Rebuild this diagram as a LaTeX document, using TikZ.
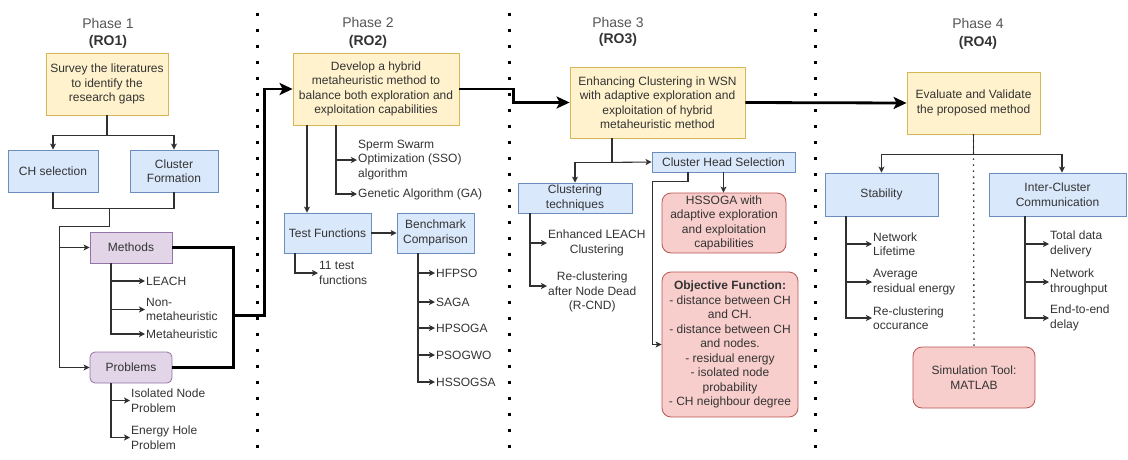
\documentclass[tikz,border=0pt]{standalone}
\usepackage{fontspec}
\setmainfont{Liberation Sans}
\usetikzlibrary{arrows.meta,calc}

\definecolor{ylwfill}{HTML}{FFF2CC}
\definecolor{ylwdraw}{HTML}{D6B656}
\definecolor{blufill}{HTML}{DAE8FC}
\definecolor{bludraw}{HTML}{6C8EBF}
\definecolor{purfill}{HTML}{E1D5E7}
\definecolor{purdraw}{HTML}{9673A6}
\definecolor{redfill}{HTML}{F8CECC}
\definecolor{reddraw}{HTML}{B85450}
\definecolor{txt}{HTML}{333333}
\definecolor{linec}{HTML}{303030}
\definecolor{phasec}{HTML}{555555}

\tikzset{
  box/.style={draw, line width=0.8pt, align=center, inner sep=1pt, text=txt},
  ybox/.style={box, fill=ylwfill, draw=ylwdraw},
  bbox/.style={box, fill=blufill, draw=bludraw},
  pbox/.style={box, fill=purfill, draw=purdraw},
  rbox/.style={box, fill=redfill, draw=reddraw, rounded corners=9pt},
  leaf/.style={anchor=west, align=left, inner sep=1pt, text=txt},
  cleaf/.style={anchor=west, align=center, inner sep=1pt, text=txt},
  conn/.style={draw=linec, line width=1.1pt},
  arr/.style={conn, -{Stealth[length=6pt,width=6pt,inset=1.5pt]}},
  heavy/.style={draw=black, line width=2.8pt},
  harr/.style={heavy, -{Stealth[length=13pt,width=12pt,inset=3pt]}},
  sep/.style={draw=black, line width=3pt, dash pattern=on 3pt off 13pt},
  dotline/.style={draw=linec, line width=1.3pt, dash pattern=on 1.5pt off 4.5pt},
  phase/.style={font=\fontsize{14}{16}\selectfont, text=phasec},
  ro/.style={font=\fontsize{14}{16}\selectfont\bfseries, text=txt}
}

\begin{document}
\begin{tikzpicture}[x=1pt, y=-1pt, font=\fontsize{12}{14.5}\selectfont]
\useasboundingbox (0,0) rectangle (1128,459);

% phase separators
\draw[sep] (257,13) -- (257,459);
\draw[sep] (509,13) -- (509,459);
\draw[sep] (815,13) -- (815,459);

% ---------------- Phase 1 ----------------
\node[phase] (p1) at (108,23) {Phase 1};
\node[ro] (r1) at (108,42) {(RO1)};
\node[ybox, minimum width=122pt, minimum height=62pt] (survey) at (107,84) {Survey the literatures\\to identify the\\research gaps};
\node[bbox, minimum width=90pt, minimum height=42pt] (chsel) at (53,171) {CH selection};
\node[bbox, minimum width=88pt, minimum height=42pt] (clform) at (174,171) {Cluster\\Formation};
\node[pbox, minimum width=82pt, minimum height=31pt] (methods) at (131,247.5) {Methods};
\node[pbox, minimum width=82pt, minimum height=31pt, rounded corners=5pt] (problems) at (131,367.5) {Problems};

\draw[conn] (survey.south) -- ++(0,20) coordinate (s1);
\draw[arr] (s1) -| (chsel.north);
\draw[arr] (s1) -| (clform.north);
\draw[conn] (chsel.south) -- ++(0,16) coordinate (j1) -| (clform.south);
\coordinate (j2) at ($(j1)!0.47!(j1 -| clform.south)$);
\draw[arr] (j2) -- ++(0,18) -| ([xshift=-30pt]methods.west) -- (methods.west);
\draw[arr] ([xshift=-30pt]methods.west) |- (problems.west);

\node[leaf] (leach) at (145,281) {LEACH};
\node[leaf] (nonmeta) at (145,309.5) {Non-\\metaheuristic};
\node[leaf] (meta) at (145,334) {Metaheuristic};
\draw[arr] ([xshift=-20pt]methods.south) |- (leach.west);
\draw[arr] ([xshift=-20pt]methods.south) |- (nonmeta.west);
\draw[arr] ([xshift=-20pt]methods.south) |- (meta.west);

\node[leaf] (isol) at (130,400.5) {Isolated Node\\Problem};
\node[leaf] (ehole) at (130,437.5) {Energy Hole\\Problem};
\draw[arr] ([xshift=-20pt]problems.south) |- (isol.west);
\draw[arr] ([xshift=-20pt]problems.south) |- (ehole.west);

% ---------------- Phase 2 ----------------
\node[phase] (p2) at (368,22) {Phase 2};
\node[ro] (r2) at (368,42) {(RO2)};
\node[ybox, minimum width=166pt, minimum height=72pt] (dev) at (376,89) {Develop a hybrid\\metaheuristic method to\\balance both exploration and\\exploitation capabilities};
\node[bbox, minimum width=87pt, minimum height=40pt] (testfn) at (327.5,233) {Test Functions};
\node[bbox, minimum width=77pt, minimum height=40pt] (bench) at (435.5,233) {Benchmark\\Comparison};

\node[leaf] (sso) at (357,160) {Sperm Swarm\\Optimization (SSO)\\algorithm};
\node[leaf] (ga) at (357,194) {Genetic Algorithm (GA)};
\draw[arr] ([xshift=-69pt]dev.south) -- ([xshift=-69pt]dev.south |- testfn.north);
\draw[arr] ([xshift=-40pt]dev.south) |- (sso.west);
\draw[arr] ([xshift=-40pt]dev.south) |- (ga.west);
\draw[arr] (testfn.east) -- (bench.west);

\node[leaf] (tfn) at (318,273) {11 test\\functions};
\draw[arr] ([xshift=-32.5pt]testfn.south) |- (tfn.west);

\node[leaf] (hfpso) at (435,273) {HFPSO};
\node[leaf] (saga) at (435,302) {SAGA};
\node[leaf] (hpsoga) at (435,328) {HPSOGA};
\node[leaf] (psogwo) at (435,355) {PSOGWO};
\node[leaf] (hssogsa) at (435,382) {HSSOGSA};
\foreach \t in {hfpso,saga,hpsoga,psogwo,hssogsa}
  \draw[arr] ([xshift=-17.5pt]bench.south) |- (\t.west);

% ---------------- Phase 3 ----------------
\node[phase] (p3) at (618,22) {Phase 3};
\node[ro] (r3) at (618,40) {(RO3)};
\node[ybox, minimum width=175pt, minimum height=71pt] (enh) at (657.5,102.5) {Enhancing Clustering in WSN\\with adaptive exploration and\\exploitation of hybrid\\metaheuristic method};
\node[bbox, minimum width=143pt, minimum height=20pt, inner sep=0.5pt] (chs) at (723.5,162) {Cluster Head Selection};
\node[bbox, minimum width=114pt, minimum height=30pt, inner sep=0pt] (clt) at (575,198) {Clustering\\techniques};
\node[rbox, minimum width=124pt, minimum height=60pt] (hss) at (724,223) {HSSOGA with\\adaptive exploration\\and exploitation\\capabilities};
\node[rbox, minimum width=136pt, minimum height=145pt] (obj) at (730,344.5) {\textbf{Objective Function:}\\- distance between CH\\and CH.\\- distance between CH\\and nodes.\\- residual energy\\- isolated node\\probability\\- CH neighbour degree};

\draw[conn] ([xshift=-45.5pt]enh.south) -- ++(0,24) coordinate (e1);
\draw[arr] (e1) -| (clt.north);
\draw[arr] (e1) -- (chs.west);
\draw[arr] (chs.south) -- (chs.south |- hss.north);
\draw[arr] ([xshift=-35.5pt]chs.south) -- ++(0,9) -| ([xshift=-9pt]obj.west) -- (obj.west);

\node[cleaf] (eleach) at (547,243) {Enhanced LEACH\\Clustering};
\node[cleaf] (rcnd) at (547,292) {Re-clustering\\after Node Dead\\(R-CND)};
\draw[arr] ([xshift=-45pt]clt.south) |- (eleach.west);
\draw[arr] ([xshift=-45pt]clt.south) |- ([yshift=6pt]rcnd.west);

% ---------------- Phase 4 ----------------
\node[phase] (p4) at (978,23) {Phase 4};
\node[ro] (r4) at (978,43) {(RO4)};
\node[ybox, minimum width=133pt, minimum height=62pt] (eval) at (973.5,103) {Evaluate and Validate\\the proposed method};
\node[bbox, minimum width=113pt, minimum height=43pt] (stab) at (881.5,194.5) {Stability};
\node[bbox, minimum width=137pt, minimum height=43pt] (icc) at (1057.5,194.5) {Inter-Cluster\\Communication};
\node[rbox, minimum width=122pt, minimum height=61pt] (sim) at (974,377.5) {Simulation Tool:\\MATLAB};

\draw[conn] (eval.south) -- ++(0,20) coordinate (v1);
\draw[arr] (v1) -| (stab.north);
\draw[arr] (v1) -| ([xshift=4.5pt]icc.north);
\draw[dotline] (eval.south) -- (sim.north);

\node[leaf] (nlife) at (872,244) {Network\\Lifetime};
\node[leaf] (avgre) at (872,282) {Average\\residual energy};
\node[leaf] (recl) at (872,318) {Re-clustering\\occurance};
\foreach \t in {nlife,avgre,recl}
  \draw[arr] ([xshift=-35.5pt]stab.south) |- (\t.west);

\node[leaf] (tdd) at (1049,244) {Total data\\delivery};
\node[leaf] (nthr) at (1049,282) {Network\\throughput};
\node[leaf] (e2e) at (1049,318) {End-to-end\\delay};
\foreach \t in {tdd,nthr,e2e}
  \draw[arr] ([xshift=-32.5pt]icc.south) |- (\t.west);

% main flow between phases
\draw[heavy] (methods.east) -- ++(61,0) coordinate (t1) |- (problems.east);
\coordinate (t2) at ($(t1)+(0,68)$);
\draw[harr] (t2) -- ++(31,0) |- (dev.west);
\draw[harr] (dev.east) -- ++(54,0) |- (enh.west);
\draw[harr] (enh.east) -- (eval.west);
\end{tikzpicture}
\end{document}
